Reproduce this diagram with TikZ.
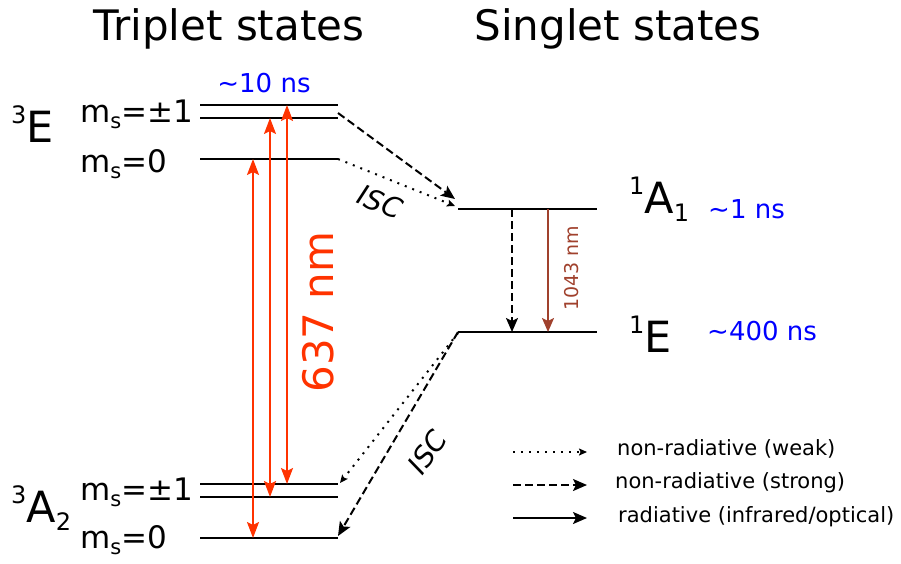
\documentclass[tikz,border=0pt]{standalone}
\usepackage{fontspec}
\setmainfont{DejaVu Sans}
\usetikzlibrary{arrows.meta,positioning,calc}
\definecolor{LaserRed}{HTML}{FF3300}
\definecolor{IRBrown}{HTML}{A0412D}
\definecolor{TimeBlue}{HTML}{0000FF}
\newcommand{\fs}[1]{\fontsize{#1}{#1}\selectfont}
\newcommand{\spinlbl}[1]{m\raisebox{-6pt}{\fs{21}s}#1}
\newcommand{\termlbl}[3]{\raisebox{19pt}{\fs{24}#1}#2\raisebox{-8pt}{\fs{24}#3}}
\newcommand{\approxsym}{{\char"7E}}

\begin{document}
\begin{tikzpicture}[
    x=1pt, y=-1pt,
    level/.style={line width=2.3pt},
    title/.style={font=\fs{42}, anchor=base, inner sep=0pt},
    term/.style={font=\fs{43}, anchor=base west, inner sep=0pt},
    spin/.style={font=\fs{31}, anchor=base west, inner sep=0pt},
    life/.style={font=\fs{26}, text=TimeBlue, anchor=base west, inner sep=0pt},
    isc/.style={font=\fs{28}\itshape, inner sep=0pt},
    legend/.style={font=\fs{21}, anchor=base west, inner sep=0pt},
    opt/.style={{Stealth[length=16pt,width=12pt,inset=3pt]}-{Stealth[length=16pt,width=12pt,inset=3pt]}, line width=2pt, draw=LaserRed},
    strong/.style={-{Stealth[length=14pt,width=12pt,inset=3pt]}, line width=2pt, dash pattern=on 8pt off 4pt},
    weak/.style={-{Stealth[length=8pt,width=7pt,inset=1.5pt]}, line width=2pt, dash pattern=on 2pt off 6pt},
    rad/.style={-{Stealth[length=14pt,width=12pt,inset=3pt]}, line width=2pt}
]
\useasboundingbox (0,0) rectangle (901,563);

% titles
\node[title] (ttrip) at (229,40) {Triplet states};
\node[title] (tsing) at (618,40) {Singlet states};

% triplet levels
\draw[level] (200,105) coordinate (E1a) -- (338,105) coordinate (E1ae);
\draw[level] (200,118) coordinate (E1b) -- (338,118) coordinate (E1be);
\draw[level] (200,159) coordinate (E0) -- (338,159) coordinate (E0e);
\draw[level] (200,484) coordinate (A1a) -- (338,484) coordinate (A1ae);
\draw[level] (200,497) coordinate (A1b) -- (338,497) coordinate (A1be);
\draw[level] (200,538) coordinate (A0) -- (338,538) coordinate (A0e);

% singlet levels
\draw[level] (458,209) coordinate (S1) -- (597,209) coordinate (S1e);
\draw[level] (458,332) coordinate (S0) -- (597,332) coordinate (S0e);

% term labels
\node[term] (tE) at (11,142) {\termlbl{3}{E}{}};
\node[term] (tA2) at (11,522) {\termlbl{3}{A}{2}};
\node[term] (tA1) at (629,213) {\termlbl{1}{A}{1}};
\node[term] (tE1) at (629,352) {\termlbl{1}{E}{}};

% spin labels
\node[spin] (sEp) at (80,122) {\spinlbl{=±1}};
\node[spin] (sE0) at (80,172) {\spinlbl{=0}};
\node[spin] (sAp) at (80,500) {\spinlbl{=±1}};
\node[spin] (sA0) at (80,548) {\spinlbl{=0}};

% lifetimes
\node[life, anchor=base] (lE) at (264,92) {\approxsym 10 ns};
\node[life] (lA1) at (708,218) {\approxsym 1 ns};
\node[life] (lE1) at (707,340) {\approxsym 400 ns};

% optical transitions
\foreach \dx/\lo/\hi in {53/A0/E0, 70/A1b/E1b, 87/A1a/E1a}
  \draw[opt] ($(\lo)+(\dx,0)$) -- ($(\hi)+(\dx,0)$);
\node[font=\fs{42}, text=LaserRed, rotate=90, inner sep=0pt] (lopt) at (318,312) {637 nm};

% intersystem crossing
\draw[strong] ($(E1be)+(0,-5)$) -- ($(S1)+(-3,-10)$);
\draw[weak] (E0e) -- ($(S1)+(-3,-3)$);
\node[isc, rotate=-22] (isc1) at (380,202) {ISC};
\draw[weak] ($(S0)+(0,1)$) -- ($(A1ae)+(2,-1)$);
\draw[strong] (S0) -- ($(A0e)+(0,-2)$);
\node[isc, rotate=55] (isc2) at (427,452) {ISC};

% singlet decay
\draw[strong] ($(S1)+(54,0)$) -- ($(S0)+(54,0)$);
\draw[rad, draw=IRBrown] ($(S1)+(90,0)$) -- ($(S0)+(90,0)$);
\node[font=\fs{19}, text=IRBrown, rotate=90, inner sep=0pt] (lir) at (572,268) {1043 nm};

% legend
\coordinate (k1) at (513,452); \coordinate (k1e) at (587,452);
\coordinate (k2) at (513,485); \coordinate (k2e) at (587,485);
\coordinate (k3) at (513,518); \coordinate (k3e) at (587,518);
\draw[weak] (k1) -- (k1e);
\draw[strong] (k2) -- (k2e);
\draw[rad] (k3) -- (k3e);
\node[legend] (g1) at (617,455) {non-radiative (weak)};
\node[legend] (g2) at (615,488) {non-radiative (strong)};
\node[legend] (g3) at (618,522) {radiative (infrared/optical)};
\end{tikzpicture}
\end{document}
